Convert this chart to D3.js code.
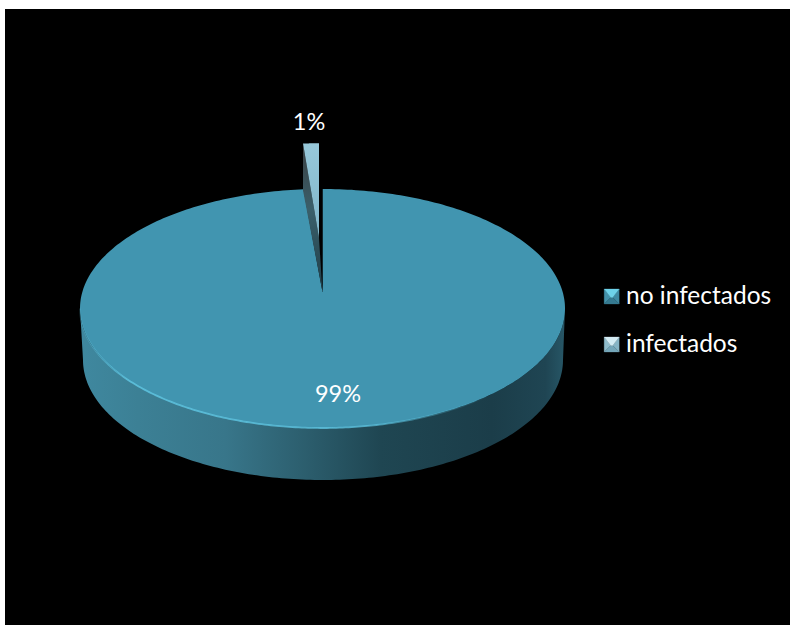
<!DOCTYPE html>
<html><head><meta charset="utf-8">
<script src="https://cdn.jsdelivr.net/npm/d3@7/dist/d3.min.js"></script>
<style>html,body{margin:0;padding:0;background:#fff;overflow:hidden}svg{display:block}text{font-family:Lato,"Noto Sans",sans-serif;fill:#fff}</style>
</head><body>
<script>
const categories = ["no infectados", "infectados"];
const values = [98.75, 1.25];
const percentLabels = ["99%", "1%"];
const W = 790, H = 625;
const cx = 322.5, cy = 308.5, rx = 242.5, ry = 119.5, apexY = 292;
const botCx = 323, botCy = 360, botRx = 240, botRy = 120;

const svg = d3.select("body").append("svg").attr("width", W).attr("height", H);
const defs = svg.append("defs");
function grad(id, stops, x1=0, y1=0, x2=1, y2=0){
  const g = defs.append("linearGradient").attr("id", id).attr("x1",x1).attr("y1",y1).attr("x2",x2).attr("y2",y2);
  stops.forEach(s => g.append("stop").attr("offset", s[0]).attr("stop-color", s[1]).attr("stop-opacity", s[2] === undefined ? 1 : s[2]));
}
grad("side", [[0,"#3f889f"],[0.12,"#3c8095"],[0.3,"#38768a"],[0.45,"#2d6070"],[0.62,"#1f4652"],[0.85,"#1b3d49"],[0.96,"#1f4553"],[1,"#275767"]]);
grad("rim", [[0,"#5cc0dc",0.2],[0.12,"#5cc0dc",0.95],[0.7,"#5cc0dc",0.8],[1,"#5cc0dc",0]]);
grad("wedgeTop", [[0,"#97c8da"],[1,"#7fb6c9"]],0,0,0,1);
grad("wedgeSide", [[0,"#3a3f42"],[0.45,"#3a5f6a"],[1,"#1f3e49"]],0,0,0,1);
defs.append("filter").attr("id","soft").append("feGaussianBlur").attr("stdDeviation",0.6);

svg.append("rect").attr("x",5).attr("y",9).attr("width",W-5).attr("height",H-9).attr("fill","#000");

const pie = d3.pie().sort(null).value(d => d).startAngle(0).endAngle(2*Math.PI)(values);
const rimPt = a => [cx + rx*Math.sin(a), cy - ry*Math.cos(a)];
const botPt = a => [botCx + botRx*Math.sin(a), botCy - botRy*Math.cos(a)];
const line = d3.line();
const samples = (a0,a1,n=180) => d3.range(n+1).map(i => a0 + (a1-a0)*i/n);

// side wall
const sideA = samples(Math.PI/2, 3*Math.PI/2);
svg.append("path").attr("fill","url(#side)")
  .attr("d", line(sideA.map(botPt).concat(sideA.slice().reverse().map(rimPt))) + "Z");

// main slice top
const main = pie[0];
svg.append("path").attr("fill","#4195b0")
  .attr("d", line([[cx,apexY]].concat(samples(main.startAngle, main.endAngle,360).map(rimPt))) + "Z");

// rim highlight
svg.append("path").attr("fill","none").attr("stroke","url(#rim)").attr("stroke-width",1.8).attr("filter","url(#soft)")
  .attr("d", line(samples(3*Math.PI/2, Math.PI*0.76).map(rimPt)));

// exploded slice
const small = pie[1];
const shiftX = -3.5, shiftY = -54, scaleX = 0.84, scaleY = 0.92, depth = 47;
const explode = p => [cx + shiftX + (p[0]-cx)*scaleX, apexY + shiftY + (p[1]-apexY)*scaleY];
const smallRim = samples(small.startAngle, small.endAngle, 20).map(rimPt).map(explode);
const tip = explode([cx,apexY]);
const corner = smallRim[0];
svg.append("path").attr("fill","#000")
  .attr("d", line([[cx,apexY],[cx,rimPt(0)[1]],[tip[0],rimPt(0)[1]],tip]) + "Z");
svg.append("path").attr("fill","url(#wedgeSide)")
  .attr("d", line([corner, tip, [cx,apexY], [corner[0], corner[1]+depth]]) + "Z");
svg.append("path").attr("fill","url(#wedgeTop)")
  .attr("d", line([tip].concat(smallRim)) + "Z");

// labels
svg.append("text").attr("x",338).attr("y",402).attr("text-anchor","middle").attr("font-size",23.5).text(percentLabels[0]);
svg.append("text").attr("x",309).attr("y",130).attr("text-anchor","middle").attr("font-size",23.5).text(percentLabels[1]);

// legend
const legendY = d3.scalePoint().domain(categories).range([296.5,344.5]);
const legendFaces = [
  {top:"#6ed2ea", left:"#4391aa", right:"#3f8aa3", bottom:"#357a91"},
  {top:"#d4ecf4", left:"#8fbccb", right:"#86b4c5", bottom:"#74a6b9"}
];
const s = 7.5;
categories.forEach((c,i) => {
  const g = svg.append("g").attr("transform",`translate(611.7,${legendY(c)})`);
  const f = legendFaces[i];
  const quad = (pts,col) => g.append("path").attr("d", line(pts)+"Z").attr("fill",col).attr("stroke",col).attr("stroke-width",0.3);
  quad([[-s,-s],[-1,1],[-s,s]], f.left);
  quad([[s,-s],[1,1],[s,s]], f.right);
  quad([[-s,s],[-1,1],[1,1],[s,s]], f.bottom);
  quad([[-s,-s],[s,-s],[1,1],[-1,1]], f.top);
  svg.append("text").attr("x",626).attr("y",legendY(c)+7.5).attr("font-size",24.5).text(c);
});
</script>
</body></html>
